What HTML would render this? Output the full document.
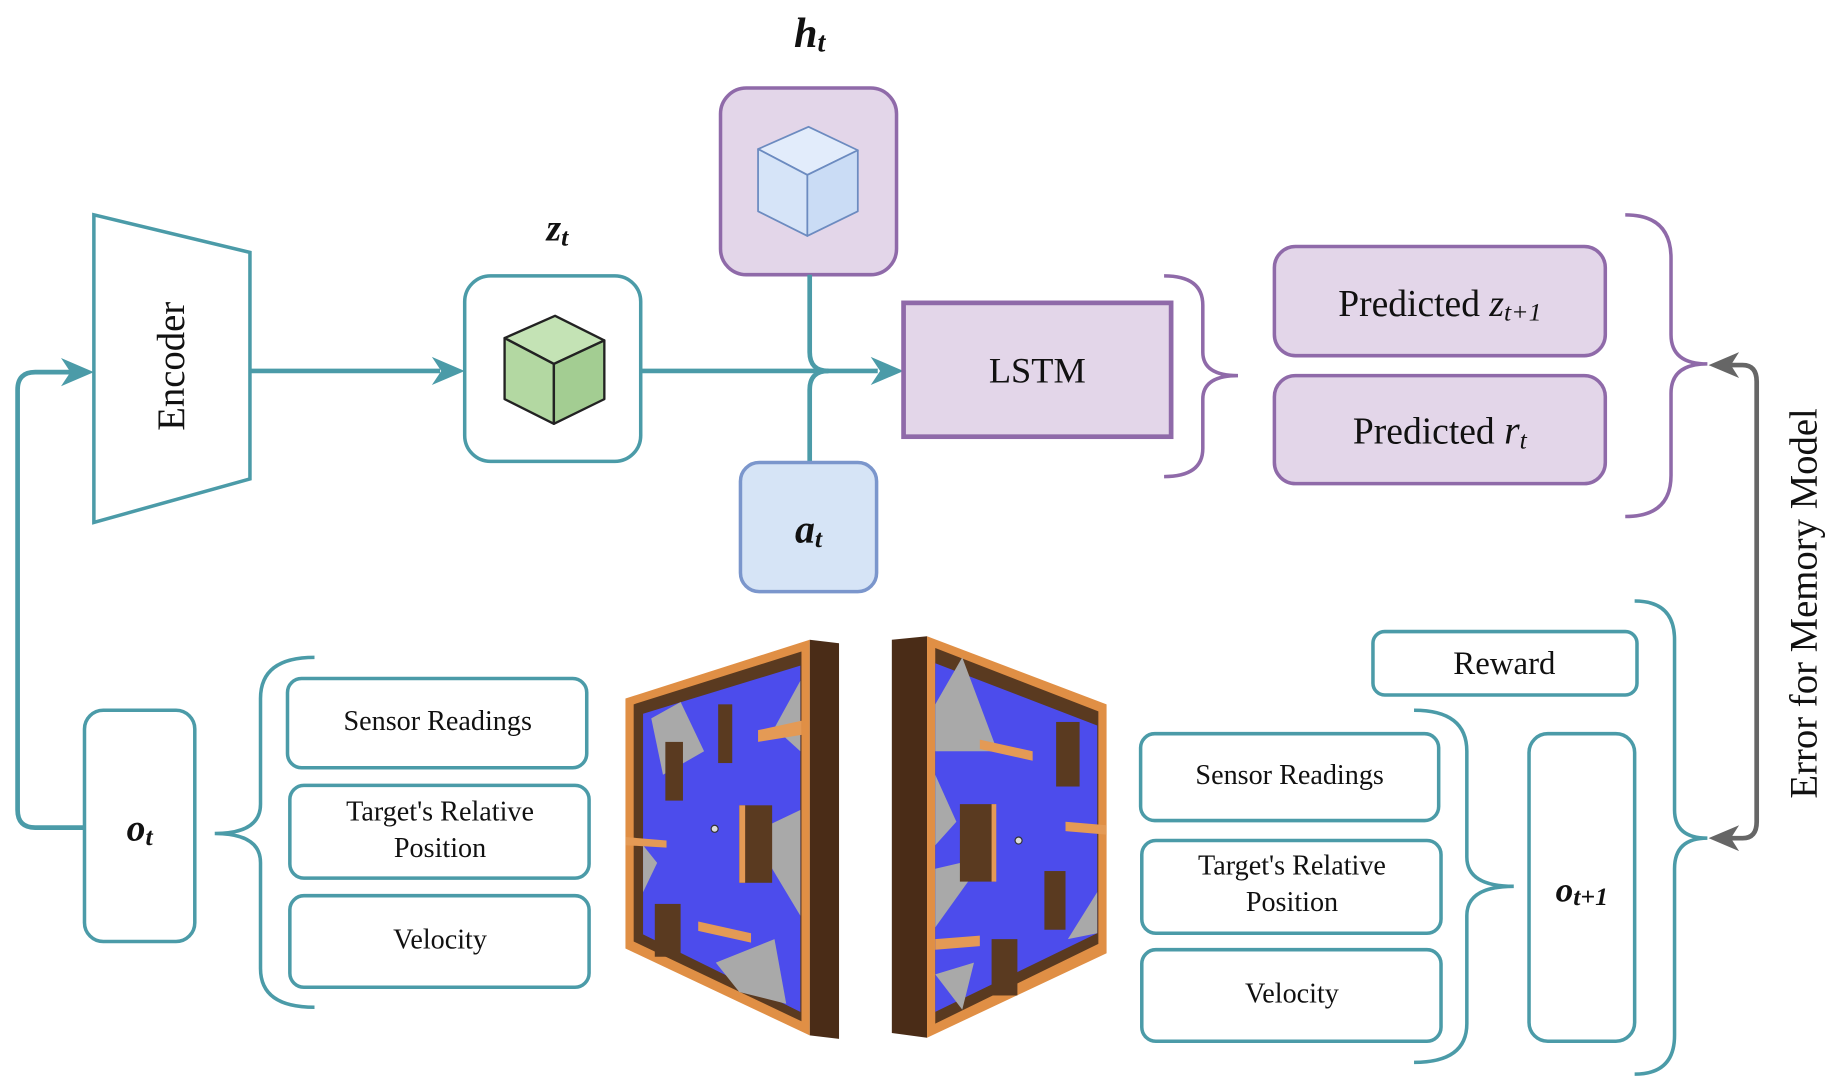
<!DOCTYPE html>
<html><head><meta charset="utf-8"><style>
html,body{margin:0;padding:0;background:#fff;}
svg{display:block;}
text{font-family:"Liberation Serif",serif;fill:#111;}
</style></head><body>
<svg width="1840" height="1080" viewBox="0 0 1568 920" preserveAspectRatio="none" xmlns="http://www.w3.org/2000/svg">
<!-- Encoder -->
<polygon points="80,183 213,215 213,408 80,445" fill="#fff" stroke="#4b9ba8" stroke-width="3"/>
<text x="0" y="0" font-size="33" text-anchor="middle" transform="translate(157,312) rotate(-90)">Encoder</text>
<!-- loop -->
<path d="M72,705 L30,705 Q15,705 15,690 L15,332 Q15,317 30,317 L68,317" fill="none" stroke="#4b9ba8" stroke-width="4"/>
<path d="M52,305 L80,317 L52,329 L60,317 Z" fill="#4b9ba8"/>
<line x1="213" y1="316" x2="375" y2="316" stroke="#4b9ba8" stroke-width="4"/>
<path d="M368,304 L396,316 L368,328 L376,316 Z" fill="#4b9ba8"/>
<!-- zt -->
<rect x="396" y="235" width="150" height="158" rx="22" fill="#fff" stroke="#4b9ba8" stroke-width="3"/>
<g stroke="#222" stroke-width="2" stroke-linejoin="round">
<polygon points="430,288 473,269 515,290 472,310" fill="#c4e3b5"/>
<polygon points="430,288 472,310 472,361 430,340" fill="#b3d8a2"/>
<polygon points="472,310 515,290 515,340 472,361" fill="#a3cd92"/>
</g>
<text x="475" y="205" font-size="32" font-weight="bold" font-style="italic" text-anchor="middle">z<tspan font-size="22" dy="4">t</tspan></text>
<line x1="546" y1="316" x2="748" y2="316" stroke="#4b9ba8" stroke-width="4"/>
<path d="M742,304 L770,316 L742,328 L750,316 Z" fill="#4b9ba8"/>
<!-- ht -->
<rect x="614" y="75" width="150" height="159" rx="22" fill="#e3d6e9" stroke="#8f6aa9" stroke-width="3"/>
<g stroke="#6c8bc0" stroke-width="1.5" stroke-linejoin="round">
<polygon points="646,127 689,108 731,128 688,149" fill="#e2ecfb"/>
<polygon points="646,127 688,149 688,201 646,180" fill="#d6e4f8"/>
<polygon points="688,149 731,128 731,180 688,201" fill="#cadcf5"/>
</g>
<text x="690" y="40" font-size="36" font-weight="bold" font-style="italic" text-anchor="middle">h<tspan font-size="24" dy="4">t</tspan></text>
<path d="M690,234 L690,300 Q690,316 706,316" fill="none" stroke="#4b9ba8" stroke-width="4"/>
<path d="M690,394 L690,332 Q690,316 706,316" fill="none" stroke="#4b9ba8" stroke-width="4"/>
<!-- at -->
<rect x="631" y="394" width="116" height="110" rx="16" fill="#d6e4f6" stroke="#7b96cc" stroke-width="3"/>
<text x="689" y="462" font-size="34" font-weight="bold" font-style="italic" text-anchor="middle">a<tspan font-size="22" dy="4">t</tspan></text>
<!-- LSTM -->
<rect x="770" y="258" width="228" height="114" fill="#e3d6e9" stroke="#8f6aa9" stroke-width="4"/>
<text x="884" y="326" font-size="31" text-anchor="middle">LSTM</text>
<path d="M992,235 Q1025,235 1025,260 L1025,300 Q1025,320 1055,320 Q1025,320 1025,340 L1025,382 Q1025,406 992,406" fill="none" stroke="#8f6aa9" stroke-width="3"/>
<!-- predicted -->
<rect x="1086" y="210" width="282" height="93" rx="18" fill="#e3d6e9" stroke="#8f6aa9" stroke-width="3"/>
<text x="1227" y="269" font-size="32" text-anchor="middle">Predicted <tspan font-style="italic">z<tspan font-size="22" dy="4">t+1</tspan></tspan></text>
<rect x="1086" y="320" width="282" height="92" rx="18" fill="#e3d6e9" stroke="#8f6aa9" stroke-width="3"/>
<text x="1227" y="378" font-size="32" text-anchor="middle">Predicted <tspan font-style="italic" font-size="34">r<tspan font-size="22" dy="4">t</tspan></tspan></text>
<path d="M1385,183 Q1424,183 1424,220 L1424,285 Q1424,310 1455,310 Q1424,310 1424,335 L1424,405 Q1424,440 1385,440" fill="none" stroke="#8f6aa9" stroke-width="3"/>
<!-- gray double arrow -->
<path d="M1472,311 L1485,311 Q1497,311 1497,325 L1497,700 Q1497,714 1485,714 L1472,714" fill="none" stroke="#666" stroke-width="4"/>
<path d="M1482,300 L1456,311 L1482,322 L1475,311 Z" fill="#666"/>
<path d="M1482,703 L1456,714 L1482,725 L1475,714 Z" fill="#666"/>
<text x="0" y="0" font-size="33" text-anchor="middle" transform="translate(1548,514) rotate(-90)">Error for Memory Model</text>
<!-- right teal brace -->
<path d="M1393,512 Q1427,512 1427,545 L1427,690 Q1427,714 1455,714 Q1427,714 1427,740 L1427,882 Q1427,915 1393,915" fill="none" stroke="#4b9ba8" stroke-width="3"/>
<rect x="1170" y="538" width="225" height="54" rx="10" fill="#fff" stroke="#4b9ba8" stroke-width="3"/>
<text x="1282" y="574" font-size="28" text-anchor="middle">Reward</text>
<rect x="1303" y="625" width="90" height="262" rx="16" fill="#fff" stroke="#4b9ba8" stroke-width="3"/>
<text x="1348" y="768" font-size="30" font-weight="bold" font-style="italic" text-anchor="middle">o<tspan font-size="22" dy="3">t+1</tspan></text>
<path d="M1205,605 Q1250,605 1250,640 L1250,730 Q1250,755 1290,755 Q1250,755 1250,780 L1250,872 Q1250,905 1205,905" fill="none" stroke="#4b9ba8" stroke-width="3"/>
<rect x="972" y="625" width="254" height="74" rx="12" fill="#fff" stroke="#4b9ba8" stroke-width="3"/>
<text x="1099" y="668" font-size="24" text-anchor="middle">Sensor Readings</text>
<rect x="973" y="716" width="255" height="79" rx="12" fill="#fff" stroke="#4b9ba8" stroke-width="3"/>
<text x="1101" y="745" font-size="24" text-anchor="middle">Target's Relative</text>
<text x="1101" y="776" font-size="24" text-anchor="middle">Position</text>
<rect x="973" y="809" width="255" height="78" rx="12" fill="#fff" stroke="#4b9ba8" stroke-width="3"/>
<text x="1101" y="854" font-size="24" text-anchor="middle">Velocity</text>
<!-- left -->
<rect x="72" y="605" width="94" height="197" rx="16" fill="#fff" stroke="#4b9ba8" stroke-width="3"/>
<text x="119" y="716" font-size="32" font-weight="bold" font-style="italic" text-anchor="middle">o<tspan font-size="22" dy="4">t</tspan></text>
<path d="M268,560 Q222,560 222,595 L222,685 Q222,710 183,710 Q222,710 222,735 L222,825 Q222,858 268,858" fill="none" stroke="#4b9ba8" stroke-width="3"/>
<rect x="245" y="578" width="255" height="76" rx="12" fill="#fff" stroke="#4b9ba8" stroke-width="3"/>
<text x="373" y="622" font-size="24" text-anchor="middle">Sensor Readings</text>
<rect x="247" y="669" width="255" height="79" rx="12" fill="#fff" stroke="#4b9ba8" stroke-width="3"/>
<text x="375" y="699" font-size="24" text-anchor="middle">Target's Relative</text>
<text x="375" y="730" font-size="24" text-anchor="middle">Position</text>
<rect x="247" y="763" width="255" height="78" rx="12" fill="#fff" stroke="#4b9ba8" stroke-width="3"/>
<text x="375" y="808" font-size="24" text-anchor="middle">Velocity</text>
<!-- left maze -->
<polygon points="690,545 715,548 715,885 690,882" fill="#4a2c17"/>
<polygon points="533,595 690,545 690,882 533,808" fill="#e08f45"/>
<polygon points="540,600 683,555 683,870 540,802" fill="#5a3a20"/>
<polygon points="548,608 682,567 682,862 548,796" fill="#4c4cec"/>
<polygon points="580,598 600,640 565,660 555,612" fill="#a9a9a9"/>
<polygon points="682,580 660,620 682,640" fill="#a9a9a9"/>
<polygon points="682,690 640,710 682,780" fill="#a9a9a9"/>
<polygon points="610,820 660,800 670,855 630,845" fill="#a9a9a9"/>
<polygon points="548,720 560,735 548,760" fill="#a9a9a9"/>
<rect x="612" y="600" width="12" height="50" fill="#5a3a20"/>
<polygon points="646,622 683,614 683,626 646,632" fill="#e49a55"/>
<rect x="567" y="632" width="15" height="50" fill="#5a3a20"/>
<rect x="630" y="686" width="28" height="66" fill="#5a3a20"/>
<rect x="630" y="686" width="5" height="66" fill="#e49a55"/>
<polygon points="533,713 568,716 568,722 533,720" fill="#e49a55"/>
<rect x="558" y="770" width="22" height="45" fill="#5a3a20"/>
<polygon points="595,785 640,795 640,803 595,793" fill="#e49a55"/>
<circle cx="609" cy="706" r="3" fill="#ddd" stroke="#333"/>
<!-- right maze -->
<polygon points="760,545 790,542 790,884 760,880" fill="#4a2c17"/>
<polygon points="790,542 943,600 943,812 790,884" fill="#e08f45"/>
<polygon points="797,552 936,606 936,804 797,872" fill="#5a3a20"/>
<polygon points="797,565 935,618 935,795 797,862" fill="#4c4cec"/>
<polygon points="797,600 820,560 850,640 797,640" fill="#a9a9a9"/>
<polygon points="797,740 840,730 797,790" fill="#a9a9a9"/>
<polygon points="797,830 830,820 820,860" fill="#a9a9a9"/>
<polygon points="910,800 935,760 935,795" fill="#a9a9a9"/>
<polygon points="797,660 815,700 797,720" fill="#a9a9a9"/>
<polygon points="835,630 880,640 880,648 835,638" fill="#e49a55"/>
<rect x="900" y="615" width="20" height="55" fill="#5a3a20"/>
<rect x="818" y="685" width="30" height="66" fill="#5a3a20"/>
<rect x="845" y="685" width="4" height="66" fill="#e49a55"/>
<polygon points="908,700 943,703 943,711 908,708" fill="#e49a55"/>
<rect x="890" y="742" width="18" height="50" fill="#5a3a20"/>
<polygon points="797,800 835,797 835,806 797,809" fill="#e49a55"/>
<rect x="845" y="800" width="22" height="48" fill="#5a3a20"/>
<circle cx="868" cy="716" r="3" fill="#ddd" stroke="#333"/>
</svg>
</body></html>
